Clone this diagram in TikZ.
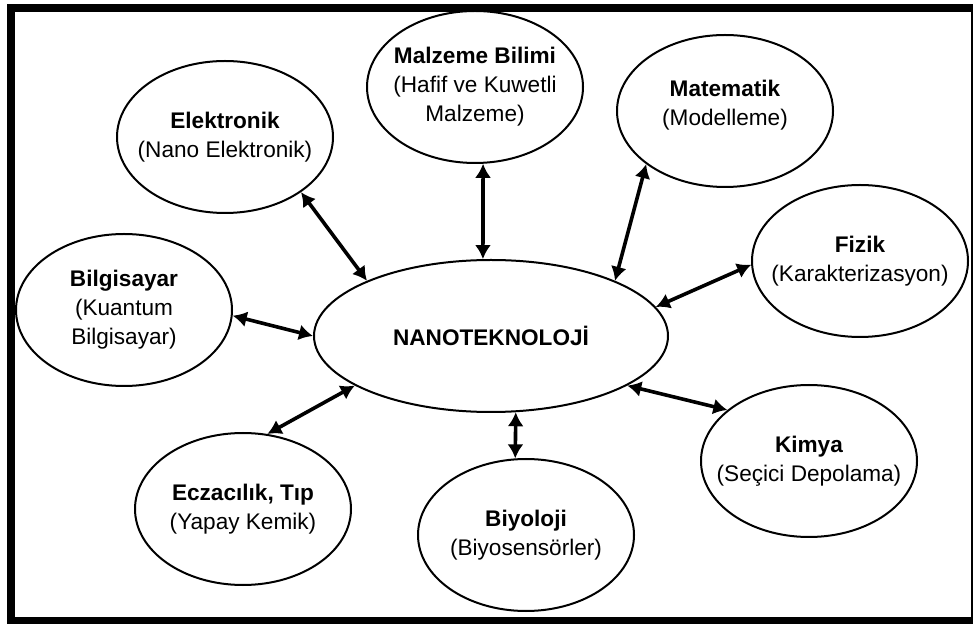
\documentclass[tikz,border=0pt]{standalone}
\usepackage{fontspec}
\setmainfont{Liberation Sans}
\usetikzlibrary{shapes.geometric,arrows.meta}

\tikzset{
  topic/.style={draw,ellipse,line width=1pt,fill=white,minimum width=108pt,minimum height=76pt,
    inner xsep=-10pt,inner ysep=0pt,align=center,font=\fontsize{11.3}{14.5}\selectfont},
  link/.style={<->,>={Latex[length=7pt,width=8pt]},line width=1.8pt},
}

\begin{document}
\begin{tikzpicture}[x=0.5pt,y=-0.5pt]
\useasboundingbox (0,0) rectangle (974,624);
% frame
\fill[black] (7,4) rectangle (973,624);
\fill[white] (15,12) rectangle (970.5,617);
% centre and fields
\node[topic,minimum width=177pt] (nano) at (491,336) {\textbf{NANOTEKNOLOJİ}};
\node[topic] (elek) at (225,137) {\textbf{Elektronik}\\(Nano Elektronik)};
\node[topic] (malz) at (475,87) {\textbf{Malzeme Bilimi}\\(Hafif ve Kuwetli\\Malzeme)};
\node[topic] (mate) at (725,111) {\textbf{Matematik}\\(Modelleme)\\[-6pt]\mbox{}};
\node[topic] (fizik) at (860,261) {\textbf{Fizik}\\(Karakterizasyon)};
\node[topic] (kimya) at (809,461) {\textbf{Kimya}\\(Seçici Depolama)};
\node[topic] (biyo) at (526,535) {\textbf{Biyoloji}\\(Biyosensörler)};
\node[topic] (ecza) at (243,509) {\textbf{Eczacılık, Tıp}\\(Yapay Kemik)};
\node[topic] (bilg) at (124,310) {\textbf{Bilgisayar}\\(Kuantum\\Bilgisayar)};
% links to the centre
\foreach \field/\from/\to in {elek/-36/156,malz/-84/96,mate/214/24.5,fizik/182/10,
  kimya/148/-20,biyo/98/-72.5,ecza/72.5/200,bilg/-3/180}{%
  \draw[link] (\field.\from) -- (nano.\to);
}
\end{tikzpicture}
\end{document}
